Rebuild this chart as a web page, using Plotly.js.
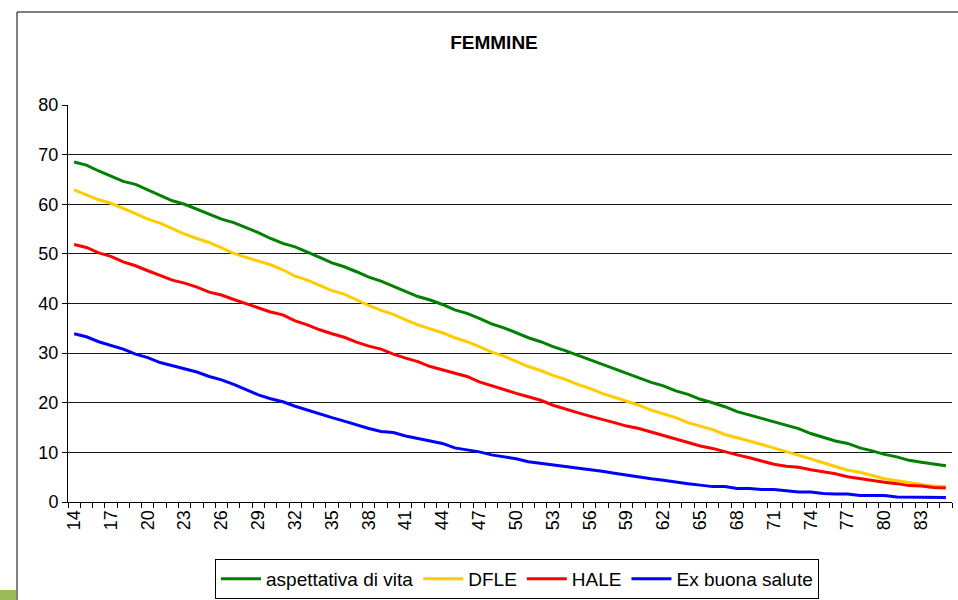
<!DOCTYPE html>
<html>
<head>
<meta charset="utf-8">
<script src="https://cdn.plot.ly/plotly-3.0.1.min.js"></script>
<style>html,body{margin:0;padding:0;background:#fff;}#chart{width:958px;height:600px;}</style>
</head>
<body>
<div id="chart"></div>
<script>
const ages = [14,15,16,17,18,19,20,21,22,23,24,25,26,27,28,29,30,31,32,33,34,35,36,37,38,39,40,41,42,43,44,45,46,47,48,49,50,51,52,53,54,55,56,57,58,59,60,61,62,63,64,65,66,67,68,69,70,71,72,73,74,75,76,77,78,79,80,81,82,83,84,85];

const aspettativa = [68.5,67.9,66.7,65.6,64.6,64.0,62.9,61.7,60.7,60.0,59.0,57.9,57.0,56.3,55.3,54.3,53.1,52.1,51.4,50.4,49.3,48.2,47.4,46.4,45.3,44.5,43.5,42.5,41.4,40.7,39.8,38.7,38.0,37.0,35.9,35.1,34.1,33.1,32.3,31.3,30.5,29.6,28.7,27.7,26.8,25.9,25.1,24.1,23.4,22.4,21.7,20.7,20.0,19.2,18.2,17.5,16.8,16.1,15.4,14.8,13.8,13.0,12.3,11.8,10.9,10.3,9.6,9.1,8.4,8.0,7.7,7.3];

const dfle = [62.9,61.9,60.9,60.2,59.2,58.1,57.0,56.2,55.1,54.0,53.1,52.3,51.2,50.1,49.3,48.6,47.8,46.8,45.5,44.7,43.7,42.6,41.9,40.7,39.6,38.6,37.8,36.7,35.7,34.9,34.1,33.1,32.3,31.3,30.2,29.4,28.4,27.3,26.5,25.5,24.7,23.7,22.9,21.9,21.1,20.3,19.5,18.5,17.7,17.0,16.0,15.3,14.6,13.6,13.0,12.3,11.6,10.9,10.1,9.4,8.7,7.9,7.2,6.4,6.0,5.4,4.7,4.3,3.9,3.5,3.2,3.1];

const hale = [51.9,51.3,50.2,49.5,48.4,47.6,46.6,45.7,44.7,44.1,43.3,42.3,41.7,40.8,40.0,39.2,38.3,37.7,36.5,35.7,34.7,33.9,33.2,32.2,31.4,30.8,29.8,29.0,28.3,27.3,26.6,25.9,25.3,24.2,23.4,22.7,21.9,21.2,20.5,19.5,18.7,18.0,17.3,16.7,16.0,15.3,14.8,14.1,13.4,12.8,12.1,11.3,10.8,10.1,9.5,8.9,8.2,7.6,7.2,7.0,6.5,6.1,5.7,5.1,4.7,4.4,4.0,3.7,3.3,3.2,2.9,2.8];

const buonaSalute = [33.9,33.3,32.3,31.6,30.8,29.8,29.1,28.1,27.5,26.9,26.2,25.3,24.6,23.7,22.6,21.6,20.8,20.2,19.3,18.5,17.7,17.0,16.3,15.5,14.8,14.2,14.0,13.3,12.8,12.3,11.8,10.9,10.5,10.1,9.5,9.1,8.7,8.1,7.8,7.4,7.1,6.8,6.5,6.2,5.8,5.4,5.0,4.7,4.4,4.0,3.7,3.4,3.1,3.1,2.7,2.7,2.5,2.5,2.2,2.0,2.0,1.7,1.6,1.6,1.3,1.3,1.3,1.0,1.0,0.9,0.9,0.9];

const seriesNames = ['aspettativa di vita','DFLE','HALE','Ex buona salute'];
const yTicks = [0,10,20,30,40,50,60,70,80];
const xTicks = ages.filter((a,i) => i % 3 === 0);

const colors = ['#008000','#FFCC00','#FF0000','#0000FF'];
const allSeries = [aspettativa, dfle, hale, buonaSalute];

const traces = allSeries.map((s,i) => ({
  x: ages, y: s, type: 'scatter', mode: 'lines', name: seriesNames[i],
  line: {color: colors[i], width: 3}
}));

const L = 68, R = 952, T = 105, B = 502;
const W = R - L, H = B - T;
const px = v => (v - L) / W;
const py = v => (B - v) / H;
const FONT = 'Liberation Sans, Arial, sans-serif';

const layout = {
  width: 958, height: 600,
  margin: {l: L, r: 958 - R, t: T, b: 600 - B, pad: 0, autoexpand: false},
  paper_bgcolor: '#ffffff', plot_bgcolor: '#ffffff',
  font: {family: FONT, size: 18, color: '#000'},
  title: {text: '<b>FEMMINE</b>', font: {size: 19, family: FONT, color: '#000'},
          x: px(494), xref: 'paper', xanchor: 'center', y: 1 - 42/600, yref: 'container', yanchor: 'middle'},
  showlegend: true,
  legend: {orientation: 'h', x: px(517), xanchor: 'center', y: py(559), yanchor: 'top',
           bordercolor: '#000', borderwidth: 1, bgcolor: '#fff',
           font: {size: 19, family: FONT},
           itemwidth: 40, traceorder: 'normal', tracegroupgap: 0},
  xaxis: {
    type: 'linear', range: [13.5, 85.5], tickmode: 'array', tickvals: xTicks,
    ticktext: xTicks.map(String), tickangle: -90, ticks: '', showgrid: false,
    showline: true, linecolor: '#000', linewidth: 1, zeroline: false,
    tickfont: {size: 18}, fixedrange: true,
    minor: {tickmode: 'linear', tick0: 13.5, dtick: 1, ticks: 'outside', ticklen: 5, tickcolor: '#000', showgrid: false}
  },
  yaxis: {
    range: [0, 80], tickmode: 'array', tickvals: yTicks, ticktext: yTicks.map(String),
    ticks: 'outside', ticklen: 5, tickcolor: '#000',
    showgrid: true, gridcolor: '#1a1a1a', gridwidth: 1,
    showline: true, linecolor: '#000', linewidth: 1, zeroline: false,
    tickfont: {size: 18}, fixedrange: true
  },
  shapes: [
    {type: 'line', xref: 'paper', yref: 'paper', x0: px(17), x1: px(960), y0: py(12), y1: py(12), line: {color: '#000', width: 1}},
    {type: 'line', xref: 'paper', yref: 'paper', x0: px(17), x1: px(17), y0: py(12), y1: py(602), line: {color: '#000', width: 1}},
    {type: 'rect', xref: 'paper', yref: 'paper', x0: px(0), x1: px(16), y0: py(600), y1: py(590), fillcolor: '#9BBB59', line: {width: 0}}
  ]
};

Plotly.newPlot('chart', traces, layout, {displayModeBar: false, staticPlot: true});
</script>
</body>
</html>
